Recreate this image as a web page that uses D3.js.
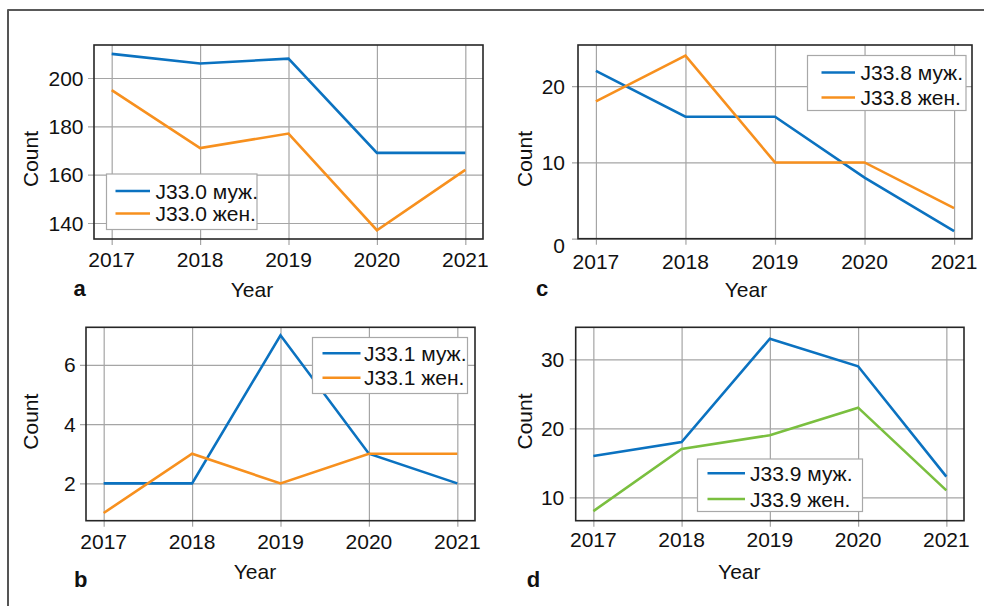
<!DOCTYPE html>
<html>
<head>
<meta charset="utf-8">
<script src="https://cdn.jsdelivr.net/npm/d3@7"></script>
<style>
  html, body { margin: 0; padding: 0; background: #fff; }
  svg { display: block; }
  text { font-family: "Liberation Sans", Arial, Helvetica, sans-serif; fill: #111; }
</style>
</head>
<body>
<svg id="chart" width="984" height="606"></svg>
<script>
// Years shared by all four panels
const years = [2017, 2018, 2019, 2020, 2021];

// J33.0
const j330Male   = [210, 206, 208, 169, 169];
const j330Female = [195, 171, 177, 137, 162];
// J33.1
const j331Male   = [2, 2, 7, 3, 2];
const j331Female = [1, 3, 2, 3, 3];
// J33.8
const j338Male   = [22, 16, 16, 8, 1];
const j338Female = [18, 24, 10, 10, 4];
// J33.9
const j339Male   = [16, 18, 33, 29, 13];
const j339Female = [8, 17, 19, 23, 11];

// Tick labels
const yTicksA = [140, 160, 180, 200];
const yTicksB = [2, 4, 6];
const yTicksC = [0, 10, 20];
const yTicksD = [10, 20, 30];

const seriesNames = {
  a: ["J33.0 муж.", "J33.0 жен."],
  b: ["J33.1 муж.", "J33.1 жен."],
  c: ["J33.8 муж.", "J33.8 жен."],
  d: ["J33.9 муж.", "J33.9 жен."]
};

const BLUE = "#0b72c0", ORANGE = "#f7901e", GREEN = "#7abf3f";
const GRID = "#a5a5a5";
const FS = 21;

// Panel layout: plot box, y domain, label placement, legend box
const panels = [
  { id: "a", box: [94, 45, 483, 239], yDomain: [133.38, 213.66], yTicks: yTicksA,
    series: [j330Male, j330Female], colors: [BLUE, ORANGE],
    tickLabelRight: 83.5, xTickBaseline: 266.5, yearX: 252, yearBaseline: 296.5, countX: 31, countY: 159,
    letterX: 73.5, letterBaseline: 296,
    legend: { box: [106.5, 174, 257, 229.5], line: [115.5, 150], textX: 155.5, rows: [191, 213.5] } },
  { id: "c", box: [578, 45, 972, 238.7], yDomain: [0, 25.4], yTicks: yTicksC,
    series: [j338Male, j338Female], colors: [BLUE, ORANGE],
    tickLabelRight: 565, xTickBaseline: 268.5, yearX: 746, yearBaseline: 296.5, countX: 524.3, countY: 159,
    letterX: 536, letterBaseline: 296, zeroNudge: 7,
    legend: { box: [807.5, 55.5, 966, 110.5], line: [821.5, 855], textX: 860.5, rows: [72.5, 97.5] } },
  { id: "b", box: [86, 327.3, 475, 520.7], yDomain: [0.74, 7.27], yTicks: yTicksB,
    series: [j331Male, j331Female], colors: [BLUE, ORANGE],
    tickLabelRight: 75.7, xTickBaseline: 549.3, yearX: 255, yearBaseline: 578.5, countX: 31, countY: 421.7,
    letterX: 74, letterBaseline: 587.3,
    legend: { box: [312.5, 337.5, 467.5, 393.5], line: [322.5, 360.5], textX: 364, rows: [353.3, 377.7] } },
  { id: "d", box: [575.7, 327.3, 964, 520.7], yDomain: [6.61, 34.65], yTicks: yTicksD,
    series: [j339Male, j339Female], colors: [BLUE, GREEN],
    tickLabelRight: 564.3, xTickBaseline: 546.7, yearX: 739.3, yearBaseline: 578.5, countX: 524.3, countY: 421.5,
    letterX: 526.7, letterBaseline: 587.3,
    legend: { box: [697.5, 459, 862.5, 511.5], line: [707.5, 745], textX: 750, rows: [473.3, 499] } }
];

const svg = d3.select("#chart");

// Outer figure frame (top and left edges)
svg.append("line").attr("x1", 8).attr("y1", 10).attr("x2", 984).attr("y2", 10)
  .attr("stroke", "#222").attr("stroke-width", 1.5);
svg.append("line").attr("x1", 8).attr("y1", 9.3).attr("x2", 8).attr("y2", 606)
  .attr("stroke", "#555").attr("stroke-width", 2);

panels.forEach(p => {
  const [x0, y0, x1, y1] = p.box;
  const x = d3.scaleLinear().domain([2016.8, 2021.2]).range([x0, x1]);
  const y = d3.scaleLinear().domain(p.yDomain).range([y1, y0]);
  const g = svg.append("g").attr("class", "panel-" + p.id);

  // Grid lines with outward tick marks
  const xAxis = d3.axisBottom(x).tickValues(years).tickSize(-(y1 - y0) - 6).tickFormat("");
  g.append("g").attr("transform", `translate(0,${y1 + 6})`).call(xAxis)
    .call(s => s.select(".domain").remove())
    .call(s => s.selectAll(".tick line").attr("stroke", GRID).attr("stroke-width", 1.2));
  const yAxis = d3.axisLeft(y).tickValues(p.yTicks).tickSize(-(x1 - x0) - 6).tickFormat("");
  g.append("g").attr("transform", `translate(${x0 - 6},0)`).call(yAxis)
    .call(s => s.select(".domain").remove())
    .call(s => s.selectAll(".tick line").attr("stroke", GRID).attr("stroke-width", 1.2));

  // Tick labels
  g.selectAll(".xlab").data(years).join("text")
    .attr("x", d => x(d)).attr("y", p.xTickBaseline)
    .attr("text-anchor", "middle").attr("font-size", FS).text(d => d);
  g.selectAll(".ylab").data(p.yTicks).join("text")
    .attr("x", p.tickLabelRight)
    .attr("y", d => y(d) + 7.5 + (d === 0 && p.zeroNudge ? p.zeroNudge : 0))
    .attr("text-anchor", "end").attr("font-size", FS).text(d => d);

  // Data lines
  const line = d3.line().x((d, i) => x(years[i])).y(d => y(d));
  p.series.forEach((s, k) => {
    g.append("path").datum(s).attr("d", line)
      .attr("fill", "none").attr("stroke", p.colors[k])
      .attr("stroke-width", 2.6).attr("stroke-linejoin", "miter");
  });

  // Plot box
  g.append("rect").attr("x", x0).attr("y", y0).attr("width", x1 - x0).attr("height", y1 - y0)
    .attr("fill", "none").attr("stroke", "#262626").attr("stroke-width", 1.6);

  // Legend
  const L = p.legend;
  g.append("rect").attr("x", L.box[0]).attr("y", L.box[1])
    .attr("width", L.box[2] - L.box[0]).attr("height", L.box[3] - L.box[1])
    .attr("fill", "#fff").attr("stroke", "#a8a8a8").attr("stroke-width", 1.2);
  seriesNames[p.id].forEach((name, k) => {
    g.append("line").attr("x1", L.line[0]).attr("x2", L.line[1])
      .attr("y1", L.rows[k]).attr("y2", L.rows[k])
      .attr("stroke", p.colors[k]).attr("stroke-width", 2.6);
    g.append("text").attr("x", L.textX).attr("y", L.rows[k] + 7.5)
      .attr("font-size", FS).text(name);
  });

  // Axis titles and panel letter
  g.append("text").attr("x", p.yearX).attr("y", p.yearBaseline)
    .attr("text-anchor", "middle").attr("font-size", FS).text("Year");
  g.append("text").attr("transform", `translate(${p.countX},${p.countY}) rotate(-90)`)
    .attr("dy", "0.35em").attr("text-anchor", "middle").attr("font-size", FS).text("Count");
  g.append("text").attr("x", p.letterX).attr("y", p.letterBaseline)
    .attr("font-size", 22).attr("font-weight", "bold").text(p.id);
});
</script>
</body>
</html>
